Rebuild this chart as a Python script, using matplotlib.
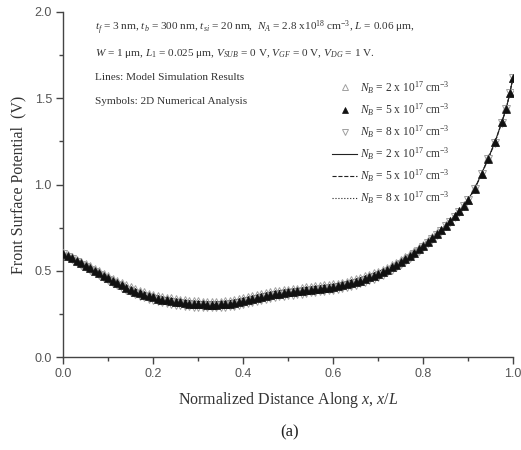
import matplotlib
matplotlib.use("Agg")
import matplotlib.pyplot as plt
import numpy as np

plt.rcParams['font.family'] = ['Liberation Serif', 'DejaVu Serif']
plt.rcParams['mathtext.fontset'] = 'custom'
plt.rcParams['mathtext.rm'] = 'Liberation Serif'
plt.rcParams['mathtext.it'] = 'Liberation Serif:italic'
plt.rcParams['mathtext.bf'] = 'Liberation Serif:bold'

# ---- data ----
x_pos = [0.00, 0.01, 0.02, 0.03, 0.04, 0.05, 0.06, 0.07, 0.08, 0.09,
         0.10, 0.11, 0.12, 0.13, 0.14, 0.15, 0.16, 0.17, 0.18, 0.19,
         0.20, 0.21, 0.22, 0.23, 0.24, 0.25, 0.26, 0.27, 0.28, 0.29,
         0.30, 0.31, 0.32, 0.33, 0.34, 0.35, 0.36, 0.37, 0.38, 0.39,
         0.40, 0.41, 0.42, 0.43, 0.44, 0.45, 0.46, 0.47, 0.48, 0.49,
         0.50, 0.51, 0.52, 0.53, 0.54, 0.55, 0.56, 0.57, 0.58, 0.59,
         0.60, 0.61, 0.62, 0.63, 0.64, 0.65, 0.66, 0.67, 0.68, 0.69,
         0.70, 0.71, 0.72, 0.73, 0.74, 0.75, 0.76, 0.77, 0.78, 0.79,
         0.80, 0.81, 0.82, 0.83, 0.84, 0.85, 0.86, 0.87, 0.88, 0.89,
         0.90, 0.915, 0.93, 0.945, 0.96, 0.975, 0.985, 0.993, 1.00]

phi_2e17 = [0.604, 0.591, 0.578, 0.565, 0.552, 0.539, 0.525, 0.510, 0.496, 0.481,
            0.468, 0.454, 0.441, 0.428, 0.416, 0.404, 0.394, 0.384, 0.375, 0.368,
            0.361, 0.355, 0.349, 0.344, 0.340, 0.336, 0.333, 0.329, 0.326, 0.324,
            0.322, 0.321, 0.320, 0.320, 0.320, 0.321, 0.323, 0.326, 0.330, 0.335,
            0.340, 0.346, 0.352, 0.358, 0.364, 0.370, 0.375, 0.380, 0.384, 0.388,
            0.391, 0.394, 0.397, 0.400, 0.403, 0.406, 0.409, 0.412, 0.415, 0.418,
            0.421, 0.426, 0.431, 0.437, 0.444, 0.451, 0.459, 0.467, 0.476, 0.485,
            0.495, 0.506, 0.518, 0.531, 0.546, 0.561, 0.578, 0.595, 0.613, 0.632,
            0.652, 0.672, 0.694, 0.716, 0.739, 0.763, 0.790, 0.818, 0.847, 0.879,
            0.912, 0.977, 1.062, 1.152, 1.247, 1.361, 1.441, 1.531, 1.620]

phi_5e17 = [0.600, 0.586, 0.572, 0.558, 0.544, 0.530, 0.515, 0.500, 0.485, 0.470,
            0.456, 0.442, 0.428, 0.415, 0.402, 0.390, 0.379, 0.369, 0.360, 0.352,
            0.345, 0.339, 0.333, 0.328, 0.324, 0.320, 0.317, 0.313, 0.310, 0.308,
            0.306, 0.305, 0.304, 0.304, 0.304, 0.305, 0.307, 0.310, 0.314, 0.319,
            0.324, 0.330, 0.336, 0.342, 0.348, 0.354, 0.359, 0.364, 0.368, 0.372,
            0.375, 0.378, 0.381, 0.384, 0.387, 0.390, 0.393, 0.396, 0.399, 0.402,
            0.405, 0.410, 0.415, 0.421, 0.428, 0.435, 0.443, 0.452, 0.461, 0.470,
            0.480, 0.492, 0.505, 0.519, 0.534, 0.550, 0.567, 0.585, 0.604, 0.624,
            0.645, 0.666, 0.688, 0.711, 0.735, 0.760, 0.787, 0.815, 0.845, 0.877,
            0.910, 0.975, 1.060, 1.150, 1.245, 1.360, 1.440, 1.530, 1.620]

phi_8e17 = [0.596, 0.581, 0.566, 0.551, 0.536, 0.521, 0.505, 0.490, 0.474, 0.459,
            0.444, 0.430, 0.415, 0.402, 0.388, 0.376, 0.364, 0.354, 0.345, 0.336,
            0.329, 0.323, 0.317, 0.312, 0.308, 0.304, 0.301, 0.297, 0.294, 0.292,
            0.290, 0.289, 0.288, 0.288, 0.288, 0.289, 0.291, 0.294, 0.298, 0.303,
            0.308, 0.314, 0.320, 0.326, 0.332, 0.338, 0.343, 0.348, 0.352, 0.356,
            0.359, 0.362, 0.365, 0.368, 0.371, 0.374, 0.377, 0.380, 0.383, 0.386,
            0.389, 0.394, 0.399, 0.405, 0.412, 0.419, 0.427, 0.437, 0.446, 0.455,
            0.465, 0.478, 0.492, 0.507, 0.522, 0.539, 0.556, 0.575, 0.595, 0.616,
            0.638, 0.660, 0.682, 0.706, 0.731, 0.757, 0.784, 0.812, 0.843, 0.875,
            0.908, 0.973, 1.058, 1.148, 1.243, 1.359, 1.439, 1.529, 1.620]

labels = [r"$N_B$ = 2 x 10$^{17}$ cm$^{-3}$",
          r"$N_B$ = 5 x 10$^{17}$ cm$^{-3}$",
          r"$N_B$ = 8 x 10$^{17}$ cm$^{-3}$"]

x_ticks = [0.0, 0.2, 0.4, 0.6, 0.8, 1.0]
y_ticks = [0.0, 0.5, 1.0, 1.5, 2.0]

# ---- figure ----
fig = plt.figure(figsize=(5.21, 4.5), dpi=100)
ax = fig.add_axes([63/521, 1-357/450, 450/521, 345/450])

# model lines
l1, = ax.plot(x_pos, phi_2e17, '-', color='#222222', lw=0.8, zorder=2)
l2, = ax.plot(x_pos, phi_5e17, '--', color='#222222', lw=0.8, zorder=2)
l3, = ax.plot(x_pos, phi_8e17, ':', color='#222222', lw=0.8, zorder=2)

# numerical symbols
ms = 5.6
m3, = ax.plot(x_pos, phi_8e17, 'v', ls='none', mfc='none', mec='#a0a0a0', ms=ms, mew=0.7, zorder=3)
m1, = ax.plot(x_pos, phi_2e17, '^', ls='none', mfc='none', mec='#a0a0a0', ms=ms, mew=0.7, zorder=3)
m2, = ax.plot(x_pos, phi_5e17, '^', ls='none', mfc='#111111', mec='#111111', ms=ms, mew=0.5, zorder=4)

ax.set_xlim(0, 1.0)
ax.set_ylim(0, 2.0)
ax.set_xticks(x_ticks)
ax.set_yticks(y_ticks)
ax.set_xticks([0.1, 0.3, 0.5, 0.7, 0.9], minor=True)
ax.set_yticks([0.25, 0.75, 1.25, 1.75], minor=True)
ax.set_xticklabels([f"{v:.1f}" for v in x_ticks])
ax.set_yticklabels([f"{v:.1f}" for v in y_ticks])

for s in ['top', 'right']:
    ax.spines[s].set_visible(False)
for s in ['left', 'bottom']:
    ax.spines[s].set_color('#444444')
    ax.spines[s].set_linewidth(1.0)

ax.tick_params(which='major', direction='out', length=5, width=1.0, color='#444444',
               labelsize=9, labelcolor='#555555', pad=3)
ax.tick_params(which='minor', direction='out', length=3, width=1.0, color='#444444')
for lab in ax.get_xticklabels() + ax.get_yticklabels():
    lab.set_family(['Liberation Sans', 'DejaVu Sans'])

ax.set_xlabel(r"Normalized Distance Along $x$, $x/L$", fontsize=11.5, color='#333333', labelpad=7)
ax.set_ylabel("Front Surface Potential  (V)", fontsize=11.5, color='#333333', labelpad=6)

# annotations
tc = '#333333'
ax.text(0.071, 1.907,
        r"$t_f$ = 3 nm, $t_b$ = 300 nm, $t_{si}$ = 20 nm,  $N_A$ = 2.8 x10$^{18}$ cm$^{-3}$, $L$ = $\mathit{0.06}$ μm,",
        fontsize=8.1, color=tc, va='center', ha='left')
ax.text(0.071, 1.762,
        r"$W$ = $\mathit{1}$ μm, $L_1$ = 0.025 μm, $V_{SUB}$ = 0 V, $V_{GF}$ = 0 V, $V_{DG}$ = 1 V.",
        fontsize=8.1, color=tc, va='center', ha='left')
ax.text(0.071, 1.623, "Lines: Model Simulation Results", fontsize=8.1, color=tc, va='center', ha='left')
ax.text(0.071, 1.484, "Symbols: 2D Numerical Analysis", fontsize=8.1, color=tc, va='center', ha='left')

handles = [m1, m2, m3, l1, l2, l3]
leg = ax.legend(handles, labels + labels, loc='upper left', bbox_to_anchor=(0.598, 0.805),
                frameon=False, fontsize=8.3, handlelength=2.2, handletextpad=0.2,
                labelspacing=0.5, borderpad=0, borderaxespad=0, markerscale=0.85)
for t in leg.get_texts():
    t.set_color(tc)

fig.text(290/521, 1-432/450, "(a)", fontsize=12, color='#222222', ha='center', va='center')

fig.savefig("out.png", dpi=100)
